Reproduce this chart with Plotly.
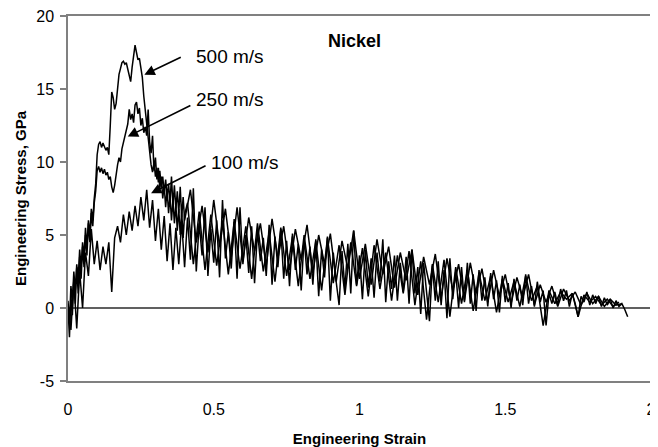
import plotly.graph_objects as go

# ---------------- data ----------------
# 500 m/s: early part sampled every 0.005 strain from 0, tail every 0.02 from 0.42
stress_500_early = [
    0.5, -1.0, 1.5, 0.5, 2.5, 1.2, 3.0, 2.0, 4.0, 2.8,
    4.5, 3.5, 5.5, 4.2, 6.0, 5.0, 6.8, 6.0, 7.5, 8.5,
    10.5, 11.2, 11.4, 11.0, 11.3, 11.1, 10.8, 11.0, 10.5, 12.5,
    14.8, 14.4, 13.6, 14.0, 15.2, 16.0, 16.4, 16.8, 16.9, 16.7,
    16.8, 16.4, 16.0, 15.5, 16.5, 17.2, 18.0, 17.5, 17.0, 17.1,
    16.5, 15.8, 14.5, 13.5, 12.8, 11.8, 10.6, 9.8, 9.3, 10.0,
    9.0, 9.6, 8.6, 9.4, 8.3, 9.0, 7.9, 8.8, 7.6, 8.5,
    7.2, 9.0, 7.0, 8.4, 6.8, 8.0, 6.5, 8.3, 6.2, 7.6,
    6.0,
]
stress_500_tail = [
    8.1, 4.5, 7.0, 3.8, 7.4, 4.2, 6.8, 3.5, 6.9, 3.2,
    6.2, 3.9, 5.8, 2.9, 6.1, 3.4, 5.6, 2.6, 5.4, 3.3,
    5.7, 2.4, 5.0, 3.0, 5.1, 1.8, 4.6, 2.7, 5.3, 2.0,
    4.4, 1.6, 4.7, 2.3, 4.2, 1.4, 3.8, 1.9, 4.0, 0.9,
    3.5, 1.6, 3.7, 0.7, 3.4, 1.2, 3.0, 0.5, 3.1, 1.0,
    2.7, 0.4, 2.6, 0.8, 2.3, 0.3, 2.1, 0.7, 2.3, 0.2,
    1.6, 0.4, 1.5, 0.1, 1.3, 0.5, 1.1, 0.2, 1.0, 0.3,
    0.8, 0.1, 0.6, 0.2, 0.3,
]

# 250 m/s: early part every 0.005 from 0, tail every 0.02 from 0.41
stress_250_early = [
    0.0, -2.0, 0.8, -0.5, 2.0, 0.3, 2.8, 1.0, 3.5, 2.0,
    4.2, 2.8, 5.0, 3.6, 5.8, 4.5, 6.5, 5.6, 7.2, 8.0,
    9.4, 9.7, 9.3, 9.6, 9.2, 9.5, 9.1, 9.3, 8.8, 9.0,
    8.3, 7.9, 8.4, 9.2, 9.8, 10.3, 10.0, 10.9, 11.3, 11.8,
    12.2, 12.6, 13.6, 12.9, 13.3, 12.7, 13.9, 14.1, 13.3, 13.7,
    12.5, 13.0, 12.0, 12.4, 11.8, 13.6, 11.4, 10.6, 11.8, 9.4,
    10.3, 8.8, 9.6, 8.2, 9.0, 7.5, 8.4, 6.9, 8.1, 6.5,
    7.7, 6.0, 7.4, 5.8, 7.1, 5.3, 6.8, 5.0, 6.6, 4.8,
    6.4,
]
stress_250_tail = [
    7.2, 3.0, 6.6, 2.6, 6.4, 2.9, 6.0, 2.3, 5.9, 2.7,
    5.6, 2.0, 5.8, 2.5, 5.2, 1.8, 5.5, 2.2, 4.9, 1.5,
    5.0, 2.0, 4.6, 1.2, 4.8, 1.7, 4.3, 0.9, 4.5, 1.5,
    4.1, 0.8, 4.3, 1.3, 3.8, 0.5, 3.6, 1.0, 3.9, 0.2,
    3.2, -0.8, 3.0, 0.4, 3.3, -0.6, 2.8, 0.3, 2.6, -0.2,
    2.4, 0.5, 2.2, -0.3, 2.0, 0.4, 1.8, 0.1, 2.2, 0.5,
    1.5, -1.2, 1.2, 0.3, 1.1, 0.6, 1.0, -0.6, 0.9, 0.4,
    0.8, 0.2, 0.6, 0.1, 0.4,
]

# 100 m/s: sampled every 0.01 strain from 0
stress_100 = [
    0.2, -1.5, 1.8, -1.4, 2.5, 0.0, 3.8, 2.2, 5.4, 3.0,
    4.6, 2.6, 4.2, 3.0, 4.5, 1.1, 4.8, 5.6, 4.5, 6.4,
    5.0, 6.6, 5.3, 7.0, 5.6, 7.6, 6.0, 8.1, 5.5, 7.4,
    4.6, 6.8, 4.0, 6.3, 3.2, 5.8, 2.6, 5.5, 3.0, 5.9,
    2.8, 6.2, 3.3, 8.2, 2.5, 5.8, 3.6, 6.9, 2.2, 5.4,
    3.1, 6.0, 2.1, 7.4, 3.4, 5.2, 2.7, 6.1, 2.0, 6.9,
    3.0, 5.0, 2.4, 5.6, 1.7, 5.3, 3.2, 4.8, 2.2, 5.7,
    1.6, 4.9, 2.8, 5.4, 2.0, 4.6, 1.5, 5.1, 2.6, 4.4,
    1.2, 4.8, 2.3, 4.2, 1.6, 4.7, 0.8, 4.0, 2.1, 4.9,
    0.5, 3.8, 1.8, 0.2, 3.9, 1.3, 4.4, 1.0, 5.3, 1.6,
    3.6, 0.6, 4.0, 1.4, 3.4, 0.7, 3.8, 1.8, 4.7, 0.4,
    3.2, 1.3, 3.6, 0.5, 3.1, 1.1, 3.5, 0.3, 4.0, 1.0,
    2.8, -0.4, 3.1, 0.8, -0.9, 2.9, 0.5, 3.2, 0.2, 2.6,
    -0.7, 3.4, 0.6, 2.5, 0.0, 2.8, 0.4, 3.1, 0.3, 2.3,
    -0.2, 2.6, 0.5, 2.1, 0.1, 2.4, 0.6, 1.9, -0.3, 2.2,
    0.4, 1.7, 0.0, 2.0, 0.5, 1.6, 0.2, 2.3, 0.3, 1.5,
    0.1, 1.8, 0.4, 1.2, -1.2, 1.0, 0.3, 1.1, 0.2, 1.3,
    0.5, 1.2, 0.1, 1.0, 0.3, -0.6, 0.8, 0.4, 1.1, 0.2,
    0.9, 0.3, 0.8, 0.1, 0.7, 0.2, 0.6, 0.0, 0.5, 0.1,
    0.3, -0.1, -0.6,
]

# sampling grids (start, step) of the digitised strain
grid_500 = [(0.0, 0.005), (0.42, 0.02)]
grid_250 = [(0.0, 0.005), (0.41, 0.02)]
grid_100 = (0.0, 0.01)

series_labels = ["500 m/s", "250 m/s", "100 m/s"]
# label anchor (strain, stress) and arrow tail/head (strain, stress)
label_pos = [(0.433, 17.2), (0.433, 14.27), (0.484, 9.94)]
arrow_tail = [(0.392, 17.22), (0.425, 13.92), (0.477, 9.80)]
arrow_head = [(0.262, 15.98), (0.205, 11.74), (0.285, 7.86)]

x_ticks = [0, 0.5, 1, 1.5, 2]
x_tick_text = ["0", "0.5", "1", "1.5", "2"]
y_ticks = [-5, 0, 5, 10, 15, 20]
y_tick_text = ["-5", "0", "5", "10", "15", "20"]
title_text = "Nickel"
x_title = "Engineering Strain"
y_title = "Engineering Stress, GPa"


def grid(start, step, n):
    return [round(start + i * step, 4) for i in range(n)]


strain_500 = grid(*grid_500[0], len(stress_500_early)) + grid(*grid_500[1], len(stress_500_tail))
strain_250 = grid(*grid_250[0], len(stress_250_early)) + grid(*grid_250[1], len(stress_250_tail))
strain_100 = grid(*grid_100, len(stress_100))

fig = go.Figure()
line = dict(color="black", width=1.5)
fig.add_trace(go.Scatter(x=strain_100, y=stress_100, mode="lines", line=line, name="100 m/s"))
fig.add_trace(go.Scatter(x=strain_250, y=stress_250_early + stress_250_tail, mode="lines", line=line, name="250 m/s"))
fig.add_trace(go.Scatter(x=strain_500, y=stress_500_early + stress_500_tail, mode="lines", line=line, name="500 m/s"))

font_family = "Liberation Sans, Arial, sans-serif"
annotations = []
for lab, (lx, ly), (tx, ty), (hx, hy) in zip(series_labels, label_pos, arrow_tail, arrow_head):
    annotations.append(dict(x=lx, y=ly, xref="x", yref="y", text=lab, showarrow=False,
                            xanchor="left", yanchor="middle",
                            font=dict(family=font_family, size=19, color="black")))
    annotations.append(dict(x=hx, y=hy, ax=tx, ay=ty, xref="x", yref="y", axref="x", ayref="y",
                            text="", showarrow=True, arrowhead=2, arrowsize=1.3, arrowwidth=1.6,
                            arrowcolor="black"))
annotations.append(dict(x=0.984, y=18.27, xref="x", yref="y", text="<b>%s</b>" % title_text,
                        showarrow=False, xanchor="center", yanchor="middle",
                        font=dict(family=font_family, size=18, color="black")))

# the page body adds an 8 px offset, so the figure is sized to the remaining window
fig.update_layout(
    width=650, height=439,
    margin=dict(l=60, r=7, t=8, b=66),
    paper_bgcolor="white", plot_bgcolor="white",
    showlegend=False,
    font=dict(family=font_family, color="black"),
    annotations=annotations,
)
fig.update_xaxes(
    range=[0, 2], tickvals=x_ticks, ticktext=x_tick_text, ticks="", automargin=False,
    ticklabelstandoff=13, ticklabeloverflow="allow",
    showline=True, mirror=True, linecolor="#808080", linewidth=1.5,
    showgrid=False, zeroline=False,
    tickfont=dict(family=font_family, size=16, color="black"),
    title=dict(text="<b>%s</b>" % x_title, font=dict(family=font_family, size=15, color="black"), standoff=23),
)
fig.update_yaxes(
    range=[-5, 20], tickvals=y_ticks, ticktext=y_tick_text, ticks="outside", ticklen=6,
    tickcolor="#808080", tickwidth=1.5, automargin=False, ticklabelstandoff=3,
    ticklabeloverflow="allow",
    showline=True, mirror=True, linecolor="#808080", linewidth=1.5,
    showgrid=False, zeroline=True, zerolinecolor="#606060", zerolinewidth=1.5,
    tickfont=dict(family=font_family, size=16, color="black"),
    title=dict(text="<b>%s</b>" % y_title, font=dict(family=font_family, size=15, color="black"), standoff=6),
)

fig.write_html("out.html")
